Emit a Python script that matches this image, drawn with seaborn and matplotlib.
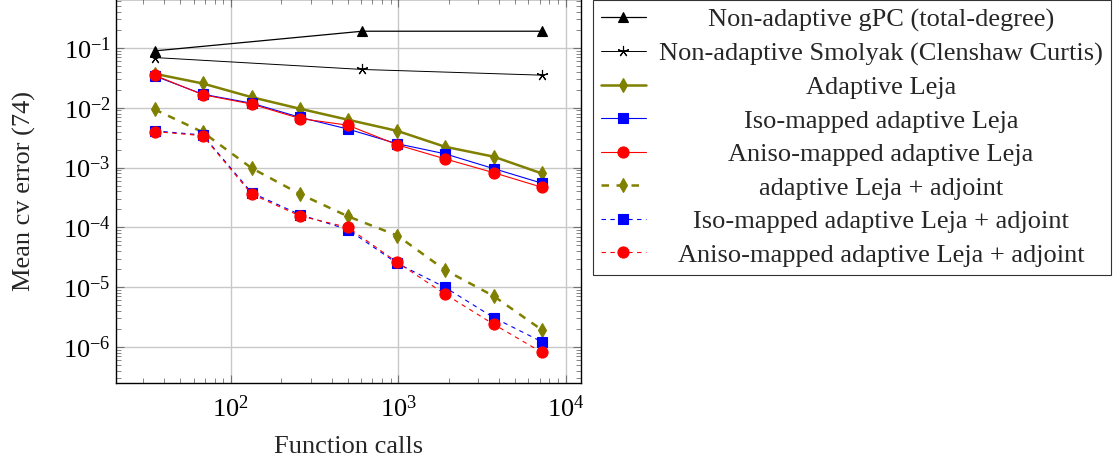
import matplotlib
matplotlib.use("Agg")
import matplotlib.pyplot as plt
import seaborn as sns

# values (log-log)
calls = [35, 68, 133, 259, 500, 987, 1897, 3716, 7180]
calls_nonadaptive = [35, 611, 7180]

gpc = [0.089, 0.19, 0.19]
smolyak = [0.069, 0.0436, 0.035]

leja = [0.037, 0.0254, 0.015, 0.0096, 0.0063, 0.0041, 0.00223, 0.00152, 0.0008]
iso_leja = [0.034, 0.0168, 0.0119, 0.0069, 0.0044, 0.0025, 0.0017, 0.00096, 0.00055]
aniso_leja = [0.035, 0.0165, 0.0115, 0.0066, 0.0051, 0.0024, 0.0014, 0.00082, 0.00047]

leja_adj = [0.0094, 0.0039, 0.00098, 0.00036, 0.000153, 0.000073, 1.95e-5, 7.1e-6, 1.95e-6]
iso_leja_adj = [0.0041, 0.0035, 0.00038, 0.000163, 0.000092, 2.5e-5, 1.0e-5, 3.1e-6, 1.23e-6]
aniso_leja_adj = [0.0040, 0.0034, 0.00036, 0.000155, 0.000100, 2.6e-5, 7.7e-6, 2.4e-6, 8.2e-7]

labels = [
    "Non-adaptive gPC (total-degree)",
    "Non-adaptive Smolyak (Clenshaw Curtis)",
    "Adaptive Leja",
    "Iso-mapped adaptive Leja",
    "Aniso-mapped adaptive Leja",
    "adaptive Leja + adjoint",
    "Iso-mapped adaptive Leja + adjoint",
    "Aniso-mapped adaptive Leja + adjoint",
]

sns.set_theme(style="ticks")
plt.rcParams["font.family"] = ["Liberation Serif", "DejaVu Serif"]
plt.rcParams["mathtext.fontset"] = "stix"
FS = 19

fig = plt.figure(figsize=(11.16, 4.59), dpi=100)
ax = fig.add_axes([0.1036, 0.1656, 0.417, 0.836])
ax.set(xscale="log", yscale="log")

olive = "#808000"
series = [
    (calls_nonadaptive, gpc, "black", "^", "-", 0.9, 7.5),
    (calls_nonadaptive, smolyak, "black", (5, 2, 0), "-", 0.7, 8),
    (calls, leja, olive, "d", "-", 1.8, 7),
    (calls, iso_leja, "blue", "s", "-", 0.8, 7),
    (calls, aniso_leja, "red", "o", "-", 0.8, 8),
    (calls, leja_adj, olive, "d", (0, (3, 3)), 1.8, 7),
    (calls, iso_leja_adj, "blue", "s", (0, (4, 4)), 0.8, 7),
    (calls, aniso_leja_adj, "red", "o", (0, (4, 4)), 0.8, 8),
]

for (xs, ys, col, mk, ls, lw, ms), lab in zip(series, labels):
    sns.lineplot(x=xs, y=ys, ax=ax, color=col, marker=mk, linestyle=ls,
                 linewidth=lw, markersize=ms, markeredgecolor=col,
                 markeredgewidth=0.8, label=lab)

ax.set_xlim(20.5, 12360)
ax.set_ylim(2.5e-7, 0.65)
ax.grid(True, which="major", color="#c8c8c8", linewidth=1.0)
ax.tick_params(which="both", direction="in", top=True, right=True,
               colors="0.45", labelcolor="black", labelsize=FS)
ax.tick_params(which="major", length=6, width=0.8)
ax.tick_params(which="minor", length=3.5, width=0.6)
ax.tick_params(axis="x", which="major", pad=9)
for sp in ax.spines.values():
    sp.set_color("black")
    sp.set_linewidth(1.0)
ax.set_xlabel("Function calls", fontsize=FS, labelpad=10)
ax.set_ylabel("Mean cv error (74)", fontsize=FS, labelpad=19)

handles, labs = ax.get_legend_handles_labels()
if ax.get_legend() is not None:
    ax.get_legend().remove()
leg = fig.legend(handles, labs, loc="upper left",
                 bbox_to_anchor=(593 / 1116, 1.0), fontsize=FS,
                 frameon=True, fancybox=False, framealpha=1,
                 edgecolor="0.2", handlelength=1.7, handletextpad=0.5,
                 labelspacing=0.38, borderpad=0.3, borderaxespad=0)
leg.get_frame().set_linewidth(0.8)

# center legend entries like pgfplots does
fig.canvas.draw()
r = fig.canvas.get_renderer()
widths = [t.get_window_extent(r).width for t in leg.get_texts()]
wmax = max(widths)
for t, w in zip(leg.get_texts(), widths):
    t.set_position(((wmax - w) / 2, 0))

fig.savefig("out.png", dpi=100)
